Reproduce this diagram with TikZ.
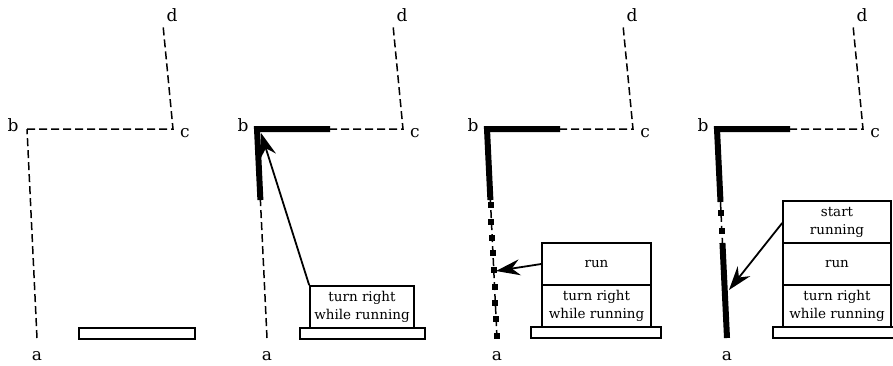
\documentclass[tikz,border=0pt]{standalone}
\usepackage{fontspec}
\setmainfont{DejaVu Serif}
\usetikzlibrary{arrows.meta,calc}
\begin{document}
\begin{tikzpicture}[x=1pt,y=-1pt,
  dsh/.style={line width=1.5pt,dash pattern=on 8pt off 4pt},
  thk/.style={line width=6pt,line join=miter},
  lbl/.style={anchor=base,font=\fontsize{17}{19}\selectfont,inner sep=0pt},
  box/.style={draw,line width=1.6pt,minimum height=42pt,align=center,
    font=\fontsize{13.5}{18}\selectfont,inner sep=0pt},
  basebox/.style={draw,line width=1.6pt,minimum height=11pt,inner sep=0pt},
  arr/.style={line width=1.8pt,-{Stealth[length=24pt,width=16pt,inset=8pt]}},
  mk/.style={fill,inner sep=0pt,minimum size=6pt}
]
\clip (0,0) rectangle (893,365);
\fill[white] (0,0) rectangle (893,365);
% corner points and labels for the four panels
\foreach \i/\o in {1/0,2/230,3/460,4/690}{
  \coordinate (a\i) at (\o+37,338);
  \coordinate (b\i) at (\o+27,129);
  \coordinate (c\i) at (\o+173,129);
  \coordinate (d\i) at (\o+163,25);
  \node[lbl] (la\i) at (\o+37,360) {a};
  \node[lbl] (lb\i) at (\o+13,131) {b};
  \node[lbl] (lc\i) at (\o+185,137) {c};
  \node[lbl] (ld\i) at (\o+172,21) {d};
  \draw[dsh] (b\i) -- (c\i) -- (d\i);
}
% panel 1
\draw[dsh] (a1) -- (b1);
\node[basebox,minimum width=116pt] (base1) at (137,333.5) {};
% panel 2
\draw[dsh] (a2) -- ($(b2)!0.34!(a2)$);
\draw[thk] ($(b2)!0.34!(a2)$) -- (b2) -- ($(b2)!0.5!(c2)$);
\node[basebox,minimum width=125pt] (base2) at (362.5,333.5) {};
\node[box,minimum width=104pt] (t2) at (362,307) {turn right\\while running};
\coordinate (tip2) at (261,133);
\draw[arr] (t2.north west) -- (tip2);
% panel 3
\draw[dsh] (a3) -- ($(b3)!0.34!(a3)$);
\draw[thk] ($(b3)!0.34!(a3)$) -- (b3) -- ($(b3)!0.5!(c3)$);
\foreach \f in {0.364,0.445,0.522,0.593,0.675,0.756,0.833,0.909,0.99}
  \node[mk] at ($(b3)!\f!(a3)$) {};
\node[basebox,minimum width=130pt] (base3) at (596,332.5) {};
\node[box,minimum width=109pt] (t3) at (596.5,306) {turn right\\while running};
\node[box,minimum width=109pt] (r3) at (596.5,264) {run};
\coordinate (tip3) at (496,271);
\draw[arr] (r3.west) -- (tip3);
% panel 4
\draw[dsh] ($(b4)!0.349!(a4)$) -- ($(b4)!0.545!(a4)$);
\draw[thk] ($(b4)!0.349!(a4)$) -- (b4) -- ($(b4)!0.5!(c4)$);
\draw[thk] ($(b4)!0.545!(a4)$) -- (a4);
\foreach \f in {0.402,0.488}
  \node[mk] at ($(b4)!\f!(a4)$) {};
\node[basebox,minimum width=130pt] (base4) at (838,332.5) {};
\node[box,minimum width=108pt] (t4) at (837,306) {turn right\\while running};
\node[box,minimum width=108pt] (r4) at (837,264) {run};
\node[box,minimum width=108pt] (s4) at (837,222) {start\\running};
\coordinate (tip4) at (729,290);
\draw[arr] ([yshift=-1pt]s4.west) -- (tip4);
\end{tikzpicture}
\end{document}
